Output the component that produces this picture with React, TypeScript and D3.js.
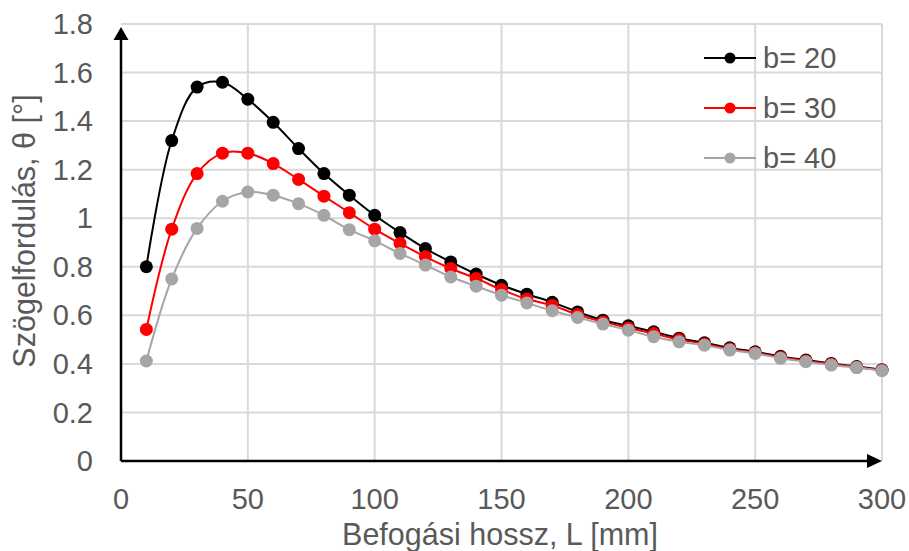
import * as d3 from 'd3';
import React from 'react';

// clamping length L [mm]
const lengths = [10, 20, 30, 40, 50, 60, 70, 80, 90, 100, 110, 120, 130, 140, 150,
  160, 170, 180, 190, 200, 210, 220, 230, 240, 250, 260, 270, 280, 290, 300];

// rotation angle θ [°] per width b
const b20 = [0.80, 1.32, 1.54, 1.56, 1.49, 1.395, 1.287, 1.184, 1.095, 1.012, 0.941, 0.875, 0.82, 0.77, 0.724,
  0.687, 0.654, 0.614, 0.58, 0.557, 0.532, 0.506, 0.487, 0.466, 0.45, 0.431, 0.416, 0.402, 0.389, 0.376];
const b30 = [0.542, 0.955, 1.184, 1.268, 1.268, 1.225, 1.16, 1.091, 1.023, 0.955, 0.896, 0.841, 0.793, 0.752, 0.706,
  0.667, 0.641, 0.603, 0.573, 0.548, 0.525, 0.5, 0.482, 0.461, 0.446, 0.427, 0.412, 0.399, 0.386, 0.374];
const b40 = [0.412, 0.75, 0.958, 1.07, 1.108, 1.095, 1.06, 1.012, 0.953, 0.907, 0.855, 0.807, 0.758, 0.72, 0.683,
  0.651, 0.619, 0.591, 0.564, 0.539, 0.512, 0.491, 0.477, 0.457, 0.443, 0.423, 0.409, 0.395, 0.385, 0.372];

const seriesNames = ['b= 20', 'b= 30', 'b= 40'];
const seriesColors = ['#000000', '#ff0000', '#a5a5a5'];

const xTicks = [0, 50, 100, 150, 200, 250, 300];
const yTicks = [0, 0.2, 0.4, 0.6, 0.8, 1, 1.2, 1.4, 1.6, 1.8];

const xTitle = 'Befogási hossz, L [mm]';
const yTitle = 'Szögelfordulás, θ [°]';

export default function App() {
  const width = 909;
  const height = 551;
  const marginLeft = 121;
  const marginRight = 27;
  const marginTop = 24;
  const marginBottom = 90;
  const font = '"Liberation Sans", Arial, sans-serif';
  const textColor = '#595959';

  const x = d3.scaleLinear().domain([0, 300]).range([marginLeft, width - marginRight]);
  const y = d3.scaleLinear().domain([0, 1.8]).range([height - marginBottom, marginTop]);

  const line = d3.line<number>()
    .x((_, i) => x(lengths[i]))
    .y((d) => y(d))
    .curve(d3.curveCatmullRom.alpha(0.5));

  const allSeries = [b20, b30, b40];
  const x0 = x(0);
  const y0 = y(0);
  const xEnd = x(300);

  return (
    <svg width={width} height={height} style={{ position: 'absolute', left: 0, top: 0, background: '#fff' }}
      fontFamily={font}>
      {/* grid */}
      {yTicks.filter((t) => t > 0).map((t) => (
        <line key={'gy' + t} x1={x0} x2={xEnd} y1={y(t)} y2={y(t)} stroke="#d9d9d9" strokeWidth={2} />
      ))}
      {xTicks.filter((t) => t > 0).map((t) => (
        <line key={'gx' + t} x1={x(t)} x2={x(t)} y1={y(1.8)} y2={y0} stroke="#d9d9d9" strokeWidth={2} />
      ))}

      {/* axes with arrows */}
      <line x1={x0} x2={x0} y1={y0} y2={marginTop + 12} stroke="#000" strokeWidth={2.5} />
      <path d={`M${x0},${marginTop + 3} L${x0 - 7.5},${marginTop + 16} L${x0 + 7.5},${marginTop + 16} Z`} fill="#000" />
      <line x1={x0} x2={xEnd - 12} y1={y0} y2={y0} stroke="#000" strokeWidth={2.5} />
      <path d={`M${xEnd},${y0} L${xEnd - 15},${y0 - 7} L${xEnd - 15},${y0 + 7} Z`} fill="#000" />

      {/* tick labels */}
      {yTicks.map((t) => (
        <text key={'ty' + t} x={93} y={y(t)} dy="0.35em" textAnchor="end" fontSize={29} fill={textColor}>
          {d3.format('~g')(t)}
        </text>
      ))}
      {xTicks.map((t) => (
        <text key={'tx' + t} x={x(t)} y={509} textAnchor="middle" fontSize={29} fill={textColor}>
          {t}
        </text>
      ))}

      {/* axis titles */}
      <text x={500} y={545} textAnchor="middle" fontSize={30.5} fill={textColor}>{xTitle}</text>
      <text transform={`translate(35,231) rotate(-90)`} textAnchor="middle" fontSize={30.5} fill={textColor}>{yTitle}</text>

      {/* series */}
      {allSeries.map((s, k) => (
        <g key={'s' + k}>
          <path d={line(s) || ''} fill="none" stroke={seriesColors[k]} strokeWidth={2} />
          {s.map((v, i) => (
            <circle key={i} cx={x(lengths[i])} cy={y(v)} r={6.5} fill={seriesColors[k]} />
          ))}
        </g>
      ))}

      {/* legend */}
      {seriesNames.map((name, k) => {
        const ly = 58 + k * 50;
        return (
          <g key={'l' + k}>
            <line x1={704} x2={756} y1={ly} y2={ly} stroke={seriesColors[k]} strokeWidth={2} />
            <circle cx={730} cy={ly} r={5.5} fill={seriesColors[k]} />
            <text x={763} y={ly} dy="0.35em" fontSize={29} fill={textColor}>{name}</text>
          </g>
        );
      })}
    </svg>
  );
}
